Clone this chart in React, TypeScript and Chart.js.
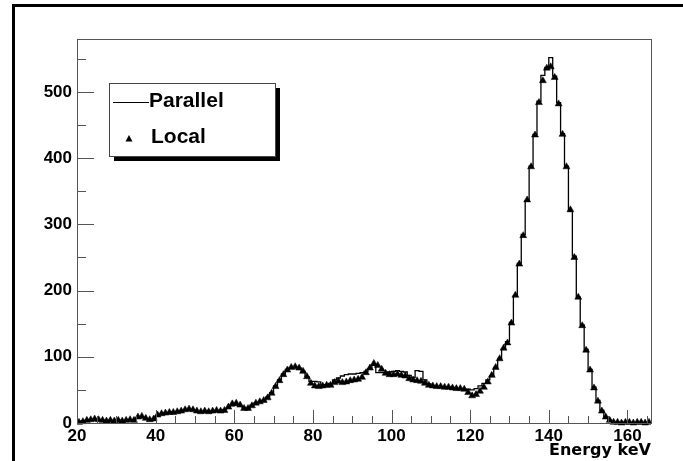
import React, { useEffect, useRef } from "react";
import { Chart, registerables } from "chart.js";

Chart.register(...registerables);

// ---- data ----
const BIN_START = 20; // keV, left edge of first bin
const BIN_WIDTH = 1; // keV
const X_MIN = 20;
const X_MAX = 166;
const Y_MIN = 0;
const Y_MAX = 580;
const xTickLabels = [20, 40, 60, 80, 100, 120, 140, 160];
const yTickLabels = [0, 100, 200, 300, 400, 500];
const xAxisTitle = "Energy keV";
const seriesNames = ["Parallel", "Local"];

// counts per 1 keV bin, 20..165 keV
const parallelCounts = [
  1, 3, 4, 5, 5, 5, 4, 4, 3, 4,
  3, 4, 4, 4, 5, 8, 9, 6, 4, 5,
  11, 13, 15, 15, 17, 17, 18, 19, 20, 19,
  17, 17, 17, 18, 18, 18, 18, 20, 22, 26,
  27, 26, 23, 22, 27, 30, 31, 34, 39, 46,
  56, 65, 74, 81, 84, 84, 83, 78, 70, 63,
  63, 62, 58, 57, 60, 65, 68, 71, 73, 74,
  74, 75, 76, 78, 82, 87, 76, 76, 76, 77,
  78, 79, 78, 77, 72, 69, 79, 78, 65, 59,
  56, 55, 55, 54, 54, 53, 52, 52, 51, 51,
  50, 52, 56, 60, 65, 71, 84, 97, 112, 123,
  152, 192, 241, 285, 336, 388, 436, 486, 525, 537,
  552, 524, 484, 437, 388, 320, 252, 190, 148, 111,
  81, 54, 34, 19, 9, 4, 1, 1, 1, 0,
  1, 1, 0, 1, 1, 0,
];

const localCounts = [
  1, 2, 4, 5, 6, 5, 4, 3, 4, 3,
  4, 3, 4, 5, 4, 9, 10, 7, 5, 6,
  12, 14, 15, 16, 16, 17, 18, 20, 21, 20,
  18, 17, 18, 17, 18, 19, 18, 19, 24, 29,
  30, 27, 22, 22, 26, 30, 32, 34, 38, 45,
  55, 64, 73, 80, 84, 85, 83, 78, 70, 60,
  56, 55, 56, 57, 57, 61, 63, 61, 62, 64,
  65, 66, 69, 76, 83, 90, 87, 81, 75, 73,
  73, 74, 72, 71, 67, 65, 64, 63, 60, 57,
  56, 55, 55, 54, 54, 53, 52, 52, 51, 46,
  41, 43, 48, 54, 62, 72, 84, 97, 113, 121,
  151, 193, 240, 283, 337, 387, 435, 484, 517, 536,
  538, 522, 482, 436, 387, 322, 250, 190, 147, 110,
  80, 53, 33, 18, 9, 4, 1, 1, 0, 1,
  1, 0, 1, 1, 0, 1,
];

// ---- helpers ----
function histogramOutline(counts: number[]) {
  const pts: { x: number; y: number }[] = [];
  counts.forEach((c, i) => {
    const lo = BIN_START + i * BIN_WIDTH;
    const hi = lo + BIN_WIDTH;
    pts.push({ x: lo, y: c });
    pts.push({ x: hi, y: c });
  });
  return pts;
}

function binCenters(counts: number[]) {
  return counts.map((c, i) => ({ x: BIN_START + (i + 0.5) * BIN_WIDTH, y: c }));
}

const FONT_FAMILY = "'Liberation Sans', Arial, Helvetica, sans-serif";
const TITLE_FAMILY = "'DejaVu Sans', 'Liberation Sans', sans-serif";

const frameColor = "#555";

const rootPlugin = {
  id: "rootStyle",
  beforeDraw(chart: any) {
    const { ctx, width, height } = chart;
    ctx.save();
    ctx.fillStyle = "#fff";
    ctx.fillRect(0, 0, width, height);
    ctx.strokeStyle = "#000";
    ctx.lineWidth = 3;
    ctx.strokeRect(13.5, 5.5, width + 20, height + 20);
    ctx.restore();
  },
  afterDatasetsDraw(chart: any) {
    const { ctx, chartArea: a, scales } = chart;
    const xs = scales.x;
    const ys = scales.y;
    ctx.save();
    ctx.strokeStyle = frameColor;
    ctx.lineWidth = 1;
    ctx.beginPath();
    for (let v = X_MIN; v <= X_MAX; v += 5) {
      const px = Math.round(xs.getPixelForValue(v)) + 0.5;
      const len = (v - X_MIN) % 20 === 0 ? 13 : 7;
      ctx.moveTo(px, a.bottom);
      ctx.lineTo(px, a.bottom - len);
    }
    for (let v = Y_MIN; v <= Y_MAX; v += 50) {
      const py = Math.round(ys.getPixelForValue(v)) + 0.5;
      const len = v % 100 === 0 ? 17 : 9;
      ctx.moveTo(a.left, py);
      ctx.lineTo(a.left + len, py);
    }
    ctx.stroke();
    ctx.strokeRect(
      Math.round(a.left) + 0.5,
      Math.round(a.top) + 0.5,
      Math.round(a.right - a.left),
      Math.round(a.bottom - a.top)
    );

    // legend box
    const bx = Math.round(a.left) + 32;
    const by = Math.round(a.top) + 44;
    const bw = 166;
    const bh = 73;
    ctx.fillStyle = "#000";
    ctx.fillRect(bx + 5, by + 5, bw, bh);
    ctx.fillStyle = "#fff";
    ctx.fillRect(bx, by, bw, bh);
    ctx.strokeStyle = "#444";
    ctx.strokeRect(bx + 0.5, by + 0.5, bw, bh);

    const ds = chart.data.datasets;
    ctx.fillStyle = "#000";
    ctx.strokeStyle = "#000";
    ctx.font = `bold 21px ${FONT_FAMILY}`;
    ctx.textBaseline = "alphabetic";
    ctx.textAlign = "left";
    // Parallel: line sample
    ctx.beginPath();
    ctx.moveTo(bx + 4, by + 19.5);
    ctx.lineTo(bx + 40, by + 19.5);
    ctx.stroke();
    ctx.fillText(ds[0].label, bx + 40, by + 24);
    // Local: triangle marker
    const tx = bx + 20;
    const ty = by + 56;
    ctx.beginPath();
    ctx.moveTo(tx, ty - 4);
    ctx.lineTo(tx + 3.5, ty + 2.5);
    ctx.lineTo(tx - 3.5, ty + 2.5);
    ctx.closePath();
    ctx.fill();
    ctx.fillText(ds[1].label, bx + 42, by + 59.5);
    ctx.restore();
  },
};

export default function App() {
  const canvasRef = useRef<HTMLCanvasElement | null>(null);

  useEffect(() => {
    const canvas = canvasRef.current;
    if (!canvas) return;
    const tickFont = { family: FONT_FAMILY, size: 17, weight: "bold" as const };
    const titleFont = { family: TITLE_FAMILY, size: 16, weight: "bold" as const };
    const chart = new Chart(canvas, {
      type: "scatter",
      data: {
        datasets: [
          {
            label: seriesNames[0],
            data: histogramOutline(parallelCounts),
            showLine: true,
            borderColor: "#000",
            borderWidth: 1.3,
            pointRadius: 0,
            fill: false,
            tension: 0,
            order: 2,
          } as any,
          {
            label: seriesNames[1],
            data: binCenters(localCounts),
            showLine: false,
            pointStyle: "triangle",
            pointRadius: 4,
            pointBackgroundColor: "#000",
            pointBorderColor: "#000",
            pointBorderWidth: 0.5,
            order: 1,
            clip: { left: 0, right: 0, top: 0, bottom: 4 },
          } as any,
        ],
      },
      options: {
        animation: false,
        responsive: false,
        devicePixelRatio: 1,
        layout: { padding: { top: 39, right: 32, left: 0, bottom: 0 } },
        plugins: {
          legend: { display: false },
          tooltip: { enabled: false },
        },
        events: [],
        scales: {
          x: {
            type: "linear",
            min: X_MIN,
            max: X_MAX,
            grid: { display: false, drawTicks: false },
            border: { display: false },
            afterBuildTicks: (s: any) => {
              s.ticks = xTickLabels.map((value) => ({ value }));
            },
            ticks: {
              autoSkip: false,
              maxRotation: 0,
              padding: 3,
              color: "#000",
              font: tickFont,
              callback: (v: any) => String(v),
            },
            title: {
              display: true,
              text: xAxisTitle,
              align: "end",
              color: "#000",
              font: titleFont,
              padding: { top: 0, bottom: 1 },
            },
            afterFit: (s: any) => {
              s.height = 38;
            },
          },
          y: {
            type: "linear",
            min: Y_MIN,
            max: Y_MAX,
            grid: { display: false, drawTicks: false },
            border: { display: false },
            afterBuildTicks: (s: any) => {
              s.ticks = yTickLabels.map((value) => ({ value }));
            },
            ticks: {
              padding: 5,
              color: "#000",
              font: tickFont,
              callback: (v: any) => String(v),
            },
            afterFit: (s: any) => {
              s.width = 77;
            },
          },
        },
      } as any,
      plugins: [rootPlugin],
    });
    return () => chart.destroy();
  }, []);

  return (
    <div style={{ position: "absolute", left: 0, top: 0, width: 683, height: 461, background: "#fff" }}>
      <canvas ref={canvasRef} width={683} height={461} style={{ display: "block", width: 683, height: 461 }} />
    </div>
  );
}
